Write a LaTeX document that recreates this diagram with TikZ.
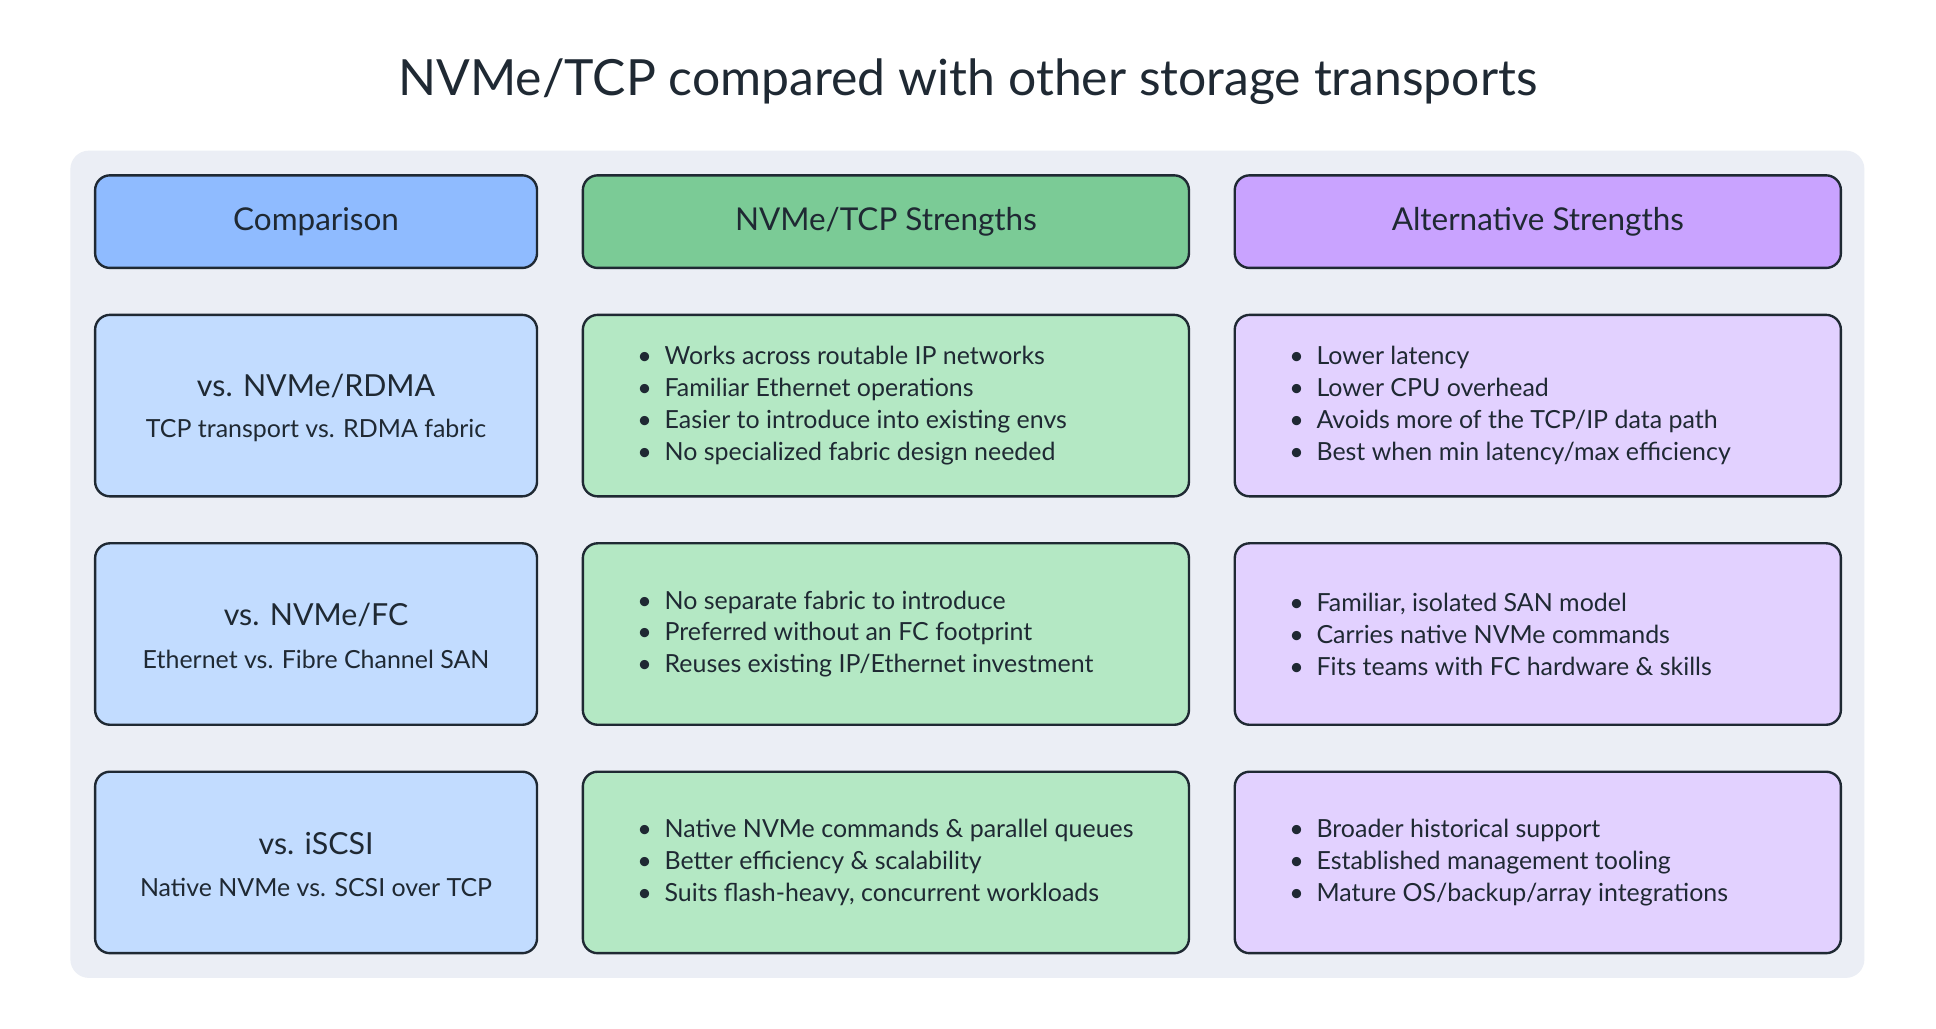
\documentclass[tikz,border=0pt]{standalone}
\usepackage{fontspec}
\setmainfont{Lato}
\definecolor{panel}{HTML}{EBEEF5}
\definecolor{edge}{HTML}{1F2933}
\definecolor{hblue}{HTML}{8FBBFF}
\definecolor{hgreen}{HTML}{7BCB96}
\definecolor{hpurple}{HTML}{C9A3FF}
\definecolor{lblue}{HTML}{C2DCFF}
\definecolor{lgreen}{HTML}{B4E8C4}
\definecolor{lpurple}{HTML}{E2D1FF}
\begin{document}
\begin{tikzpicture}[x=0.02cm,y=-0.02cm,
  cell/.style={draw=edge,line width=1.1pt,rounded corners=0.24cm,inner sep=0pt,minimum height=2.94cm},
  head/.style={cell,minimum height=1.5cm,font=\fontsize{14.5}{17}\selectfont,text=edge},
  narrow/.style={minimum width=7.16cm},
  wide/.style={minimum width=9.82cm},
  items/.style={anchor=west,align=left,text=edge,font=\fontsize{11.5}{14.7}\selectfont},
  topic/.style={align=center,text=edge,font=\fontsize{14}{17}\selectfont}]
\fill[white] (0,0) rectangle (1568,833);
\useasboundingbox (0,0) rectangle (1568,833);
\node[font=\fontsize{23}{27}\selectfont,text=edge] (title) at (784,66) {NVMe/TCP compared with other storage transports};
\fill[panel,rounded corners=0.3cm] (57,122) rectangle (1510,792);
% headers
\node[head,narrow,fill=hblue] (h1) at (256,179.5) {Comparison};
\node[head,wide,fill=hgreen] (h2) at (717.5,179.5) {NVMe/TCP Strengths};
\node[head,wide,fill=hpurple] (h3) at (1245.5,179.5) {Alternative Strengths};
% row 1
\node[cell,narrow,fill=lblue] (c1) at (256,328.5) {};
\node[topic] at (256,313) {vs. NVMe/RDMA};
\node[topic,font=\fontsize{11.5}{14}\selectfont] at (256,349) {TCP transport vs. RDMA fabric};
\node[cell,wide,fill=lgreen] (t1) at (717.5,328.5) {};
\node[items] at (510,328.5) {\textbullet\ \ Works across routable IP networks\\\textbullet\ \ Familiar Ethernet operations\\\textbullet\ \ Easier to introduce into existing envs\\\textbullet\ \ No specialized fabric design needed};
\node[cell,wide,fill=lpurple] (a1) at (1245.5,328.5) {};
\node[items] at (1038,328.5) {\textbullet\ \ Lower latency\\\textbullet\ \ Lower CPU overhead\\\textbullet\ \ Avoids more of the TCP/IP data path\\\textbullet\ \ Best when min latency/max efficiency};
% row 2
\node[cell,narrow,fill=lblue] (c2) at (256,513.5) {};
\node[topic] at (256,498) {vs. NVMe/FC};
\node[topic,font=\fontsize{11.5}{14}\selectfont] at (256,534) {Ethernet vs. Fibre Channel SAN};
\node[cell,wide,fill=lgreen] (t2) at (717.5,513.5) {};
\node[items] at (510,513.5) {\textbullet\ \ No separate fabric to introduce\\\textbullet\ \ Preferred without an FC footprint\\\textbullet\ \ Reuses existing IP/Ethernet investment};
\node[cell,wide,fill=lpurple] (a2) at (1245.5,513.5) {};
\node[items] at (1038,513.5) {\textbullet\ \ Familiar, isolated SAN model\\\textbullet\ \ Carries native NVMe commands\\\textbullet\ \ Fits teams with FC hardware \& skills};
% row 3
\node[cell,narrow,fill=lblue] (c3) at (256,698.5) {};
\node[topic] at (256,683) {vs. iSCSI};
\node[topic,font=\fontsize{11.5}{14}\selectfont] at (256,719) {Native NVMe vs. SCSI over TCP};
\node[cell,wide,fill=lgreen] (t3) at (717.5,698.5) {};
\node[items] at (510,698.5) {\textbullet\ \ Native NVMe commands \& parallel queues\\\textbullet\ \ Better efficiency \& scalability\\\textbullet\ \ Suits flash-heavy, concurrent workloads};
\node[cell,wide,fill=lpurple] (a3) at (1245.5,698.5) {};
\node[items] at (1038,698.5) {\textbullet\ \ Broader historical support\\\textbullet\ \ Established management tooling\\\textbullet\ \ Mature OS/backup/array integrations};
\end{tikzpicture}
\end{document}
